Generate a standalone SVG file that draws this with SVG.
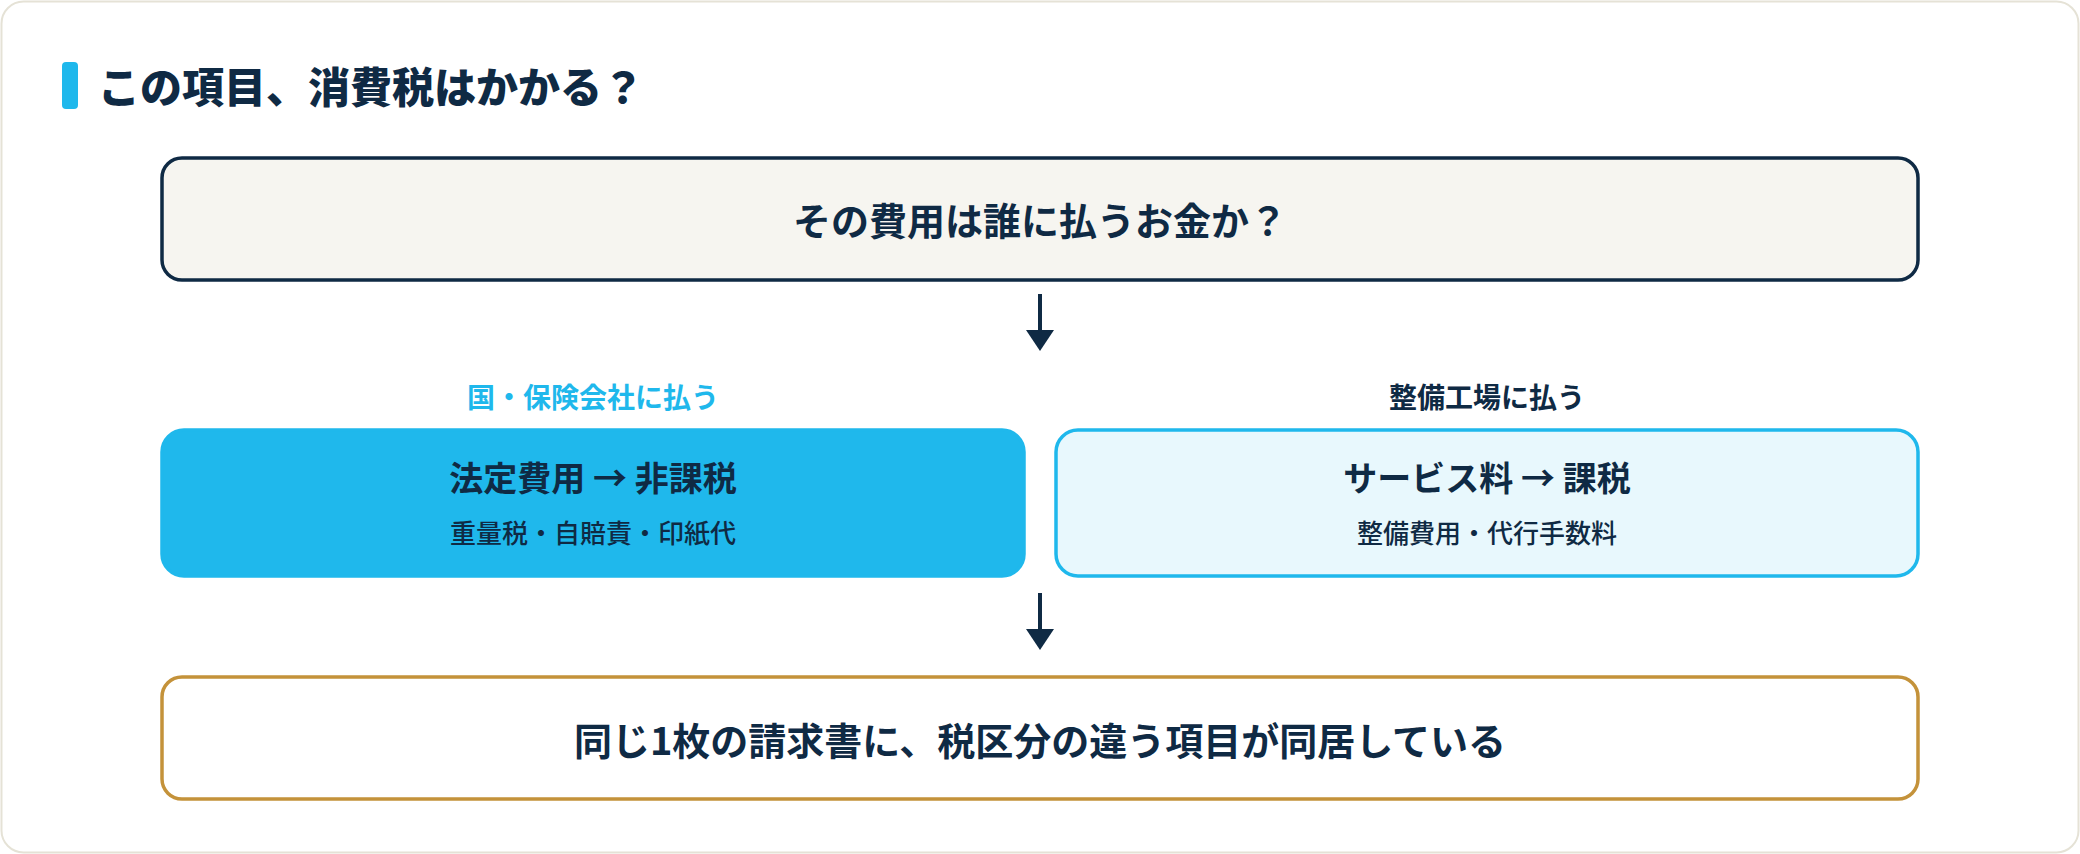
<svg xmlns="http://www.w3.org/2000/svg" width="2080" height="854" viewBox="0 0 2080 854">
<style>
text{font-family:"Noto Sans CJK JP","Noto Sans CJK SC",sans-serif;fill:#0f2a44;text-anchor:middle}
.b{font-weight:700}
.m{font-weight:500}
.conn line{stroke:#0f2a44;stroke-width:4}
.conn polygon{fill:#0f2a44}
</style>
<rect x="1.5" y="1.5" width="2077" height="851" rx="22" fill="#ffffff" stroke="#e5e2d6" stroke-width="2"/>
<g id="title">
<rect x="62" y="62" width="16" height="47" rx="4" fill="#1fb8ec"/>
<text x="98" y="103" style="text-anchor:start;font-size:42px;font-weight:900">この項目、消費税はかかる？</text>
</g>
<g id="question">
<rect x="162" y="158" width="1756" height="122" rx="20" fill="#f6f5f0" stroke="#0f2a44" stroke-width="3.5"/>
<text x="1040" y="235" class="b" style="font-size:38px">その費用は誰に払うお金か？</text>
</g>
<g id="label-left">
<text x="593" y="408" class="b" style="font-size:28px;fill:#1fb8ec">国・保険会社に払う</text>
</g>
<g id="label-right">
<text x="1487" y="408" class="b" style="font-size:28px">整備工場に払う</text>
</g>
<g id="nontaxable">
<rect x="162" y="430" width="862" height="146" rx="22" fill="#1fb8ec" stroke="#1fb8ec" stroke-width="3.5"/>
<text x="593" y="491" class="b" style="font-size:34px">法定費用 → 非課税</text>
<text x="593" y="543" class="m" style="font-size:26px">重量税・自賠責・印紙代</text>
</g>
<g id="taxable">
<rect x="1056" y="430" width="862" height="146" rx="22" fill="#e8f8fd" stroke="#1fb8ec" stroke-width="3.5"/>
<text x="1487" y="491" class="b" style="font-size:34px">サービス料 → 課税</text>
<text x="1487" y="543" class="m" style="font-size:26px">整備費用・代行手数料</text>
</g>
<g id="conclusion">
<rect x="162" y="677" width="1756" height="122" rx="20" fill="#ffffff" stroke="#c4923a" stroke-width="3.5"/>
<text x="1040" y="755" class="b" style="font-size:38px">同じ1枚の請求書に、税区分の違う項目が同居している</text>
</g>
<g id="connectors" class="conn">
<line x1="1040" y1="294" x2="1040" y2="332"/>
<polygon points="1026,330 1054,330 1040,351"/>
<line x1="1040" y1="593" x2="1040" y2="631"/>
<polygon points="1026,629 1054,629 1040,650"/>
</g>
</svg>
